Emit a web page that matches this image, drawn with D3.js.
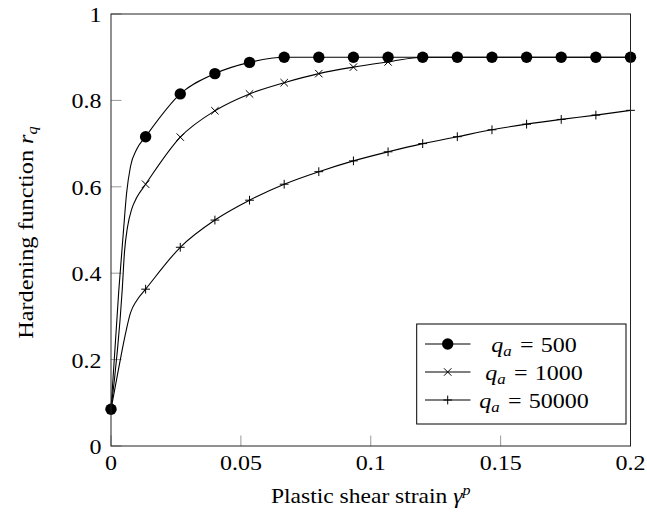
<!DOCTYPE html>
<html>
<head>
<meta charset="utf-8">
<script src="https://cdn.jsdelivr.net/npm/d3@7"></script>
<style>
  body { margin: 0; background: #fff; }
  svg { display: block; }
  text { font-family: "Liberation Serif", Tinos, "Times New Roman", Times, serif; fill: #000; }
</style>
</head>
<body>
<svg id="chart" width="647" height="523"></svg>
<script>
// Plastic shear strain at the marked samples
const strain = [0, 0.01333, 0.02667, 0.04, 0.05333, 0.06667, 0.08, 0.09333,
                0.10667, 0.12, 0.13333, 0.14667, 0.16, 0.17333, 0.18667, 0.2];

// Hardening function r_q at the marked samples
const rq500   = [0.085, 0.716, 0.815, 0.862, 0.888, 0.9, 0.9, 0.9,
                 0.9, 0.9, 0.9, 0.9, 0.9, 0.9, 0.9, 0.9];
const rq1000  = [0.085, 0.606, 0.715, 0.776, 0.815, 0.841, 0.862, 0.877,
                 0.889, 0.9, 0.9, 0.9, 0.9, 0.9, 0.9, 0.9];
const rq50000 = [0.085, 0.363, 0.460, 0.523, 0.569, 0.606, 0.635, 0.660,
                 0.681, 0.700, 0.716, 0.732, 0.745, 0.756, 0.766, 0.777];

// Extra unmarked curve samples across the steep initial rise
const earlyStrain500  = [0.003, 0.0047, 0.006, 0.0075, 0.0099];
const earlyRq500      = [0.36, 0.49, 0.585, 0.647, 0.687];
const earlyStrain1000 = [0.0043, 0.0052, 0.0063, 0.008, 0.0099];
const earlyRq1000     = [0.36, 0.45, 0.505, 0.549, 0.575];
const earlyStrain50000 = [0.0028, 0.0054, 0.0075, 0.0099];
const earlyRq50000     = [0.175, 0.255, 0.308, 0.337];

const seriesLabels = ["500", "1000", "50000"];
const seriesMarks  = ["circle", "cross", "plus"];

const xTicks = [0, 0.05, 0.1, 0.15, 0.2];
const xTickLabels = ["0", "0.05", "0.1", "0.15", "0.2"];
const yTicks = [0, 0.2, 0.4, 0.6, 0.8, 1];
const yTickLabels = ["0", "0.2", "0.4", "0.6", "0.8", "1"];

const svg = d3.select("#chart");
const L = 111, R = 630.5, T = 14, B = 446;

const x = d3.scaleLinear().domain([0, 0.2]).range([L, R]);
const y = d3.scaleLinear().domain([0, 1]).range([B, T]);

const series = [
  { marked: strain.map((s, i) => [s, rq500[i]]),
    early: earlyStrain500.map((s, i) => [s, earlyRq500[i]]) },
  { marked: strain.map((s, i) => [s, rq1000[i]]),
    early: earlyStrain1000.map((s, i) => [s, earlyRq1000[i]]) },
  { marked: strain.map((s, i) => [s, rq50000[i]]),
    early: earlyStrain50000.map((s, i) => [s, earlyRq50000[i]]) }
];

// Ticks (inside, left and bottom only)
const TICK = 10.5;
const axes = svg.append("g");
axes.selectAll(".xt").data(xTicks).join("line")
  .attr("x1", d => x(d)).attr("x2", d => x(d))
  .attr("y1", B).attr("y2", B - TICK)
  .attr("stroke", "#999").attr("stroke-width", 1);
axes.selectAll(".yt").data(yTicks).join("line")
  .attr("x1", L).attr("x2", L + TICK)
  .attr("y1", d => y(d)).attr("y2", d => y(d))
  .attr("stroke", "#999").attr("stroke-width", 1);

// Tick labels, slightly wide serif digits
const SX = 1.2;
axes.selectAll(".xl").data(xTicks).join("g")
  .attr("transform", d => `translate(${x(d)},${B + 23.5}) scale(${SX},1)`)
  .append("text")
  .attr("text-anchor", "middle").attr("font-size", 20)
  .text((d, i) => xTickLabels[i]);
axes.selectAll(".yl").data(yTicks).join("g")
  .attr("transform", d => `translate(${L - 9.5},${y(d) + 8}) scale(${SX},1)`)
  .append("text")
  .attr("text-anchor", "end").attr("font-size", 20)
  .text((d, i) => yTickLabels[i]);

// Curves
const line = d3.line().x(d => x(d[0])).y(d => y(d[1])).curve(d3.curveMonotoneX);
const plot = svg.append("g");
series.forEach(s => {
  const pts = s.marked.concat(s.early).sort((a, b) => a[0] - b[0]);
  plot.append("path").datum(pts)
    .attr("d", line)
    .attr("fill", "none").attr("stroke", "#000").attr("stroke-width", 1.1);
});

// Marker drawing
function drawMark(g, kind, cx, cy) {
  if (kind === "circle") {
    g.append("circle").attr("cx", cx).attr("cy", cy).attr("r", 5.7).attr("fill", "#000");
  } else if (kind === "cross") {
    const h = 3.7;
    g.append("path")
      .attr("d", `M${cx - h},${cy - h}L${cx + h},${cy + h}M${cx - h},${cy + h}L${cx + h},${cy - h}`)
      .attr("stroke", "#000").attr("stroke-width", 1).attr("fill", "none");
  } else {
    const h = 4.4;
    g.append("path")
      .attr("d", `M${cx - h},${cy}L${cx + h},${cy}M${cx},${cy - h}L${cx},${cy + h}`)
      .attr("stroke", "#000").attr("stroke-width", 1).attr("fill", "none");
  }
}
series.forEach((s, k) => {
  const g = plot.append("g");
  s.marked.forEach(p => drawMark(g, seriesMarks[k], x(p[0]), y(p[1])));
});

// Frame
svg.append("rect")
  .attr("x", L).attr("y", T).attr("width", R - L).attr("height", B - T)
  .attr("fill", "none").attr("stroke", "#222").attr("stroke-width", 1);

// Axis titles
const xt = svg.append("g")
  .attr("transform", `translate(${(L + R) / 2},${502.5}) scale(1.07,1)`)
  .append("text").attr("text-anchor", "middle").attr("font-size", 22);
xt.append("tspan").text("Plastic shear strain ");
xt.append("tspan").attr("font-style", "italic").text("γ");
xt.append("tspan").attr("font-style", "italic").attr("font-size", 15).attr("dy", -8).text("p");

const yt = svg.append("g")
  .attr("transform", `translate(33,232.5) rotate(-90) scale(1.1,1)`)
  .append("text").attr("text-anchor", "middle").attr("font-size", 22);
yt.append("tspan").text("Hardening function ");
yt.append("tspan").attr("font-style", "italic").text("r");
yt.append("tspan").attr("font-style", "italic").attr("font-size", 15).attr("dy", 4).text("q");

// Legend
const lg = svg.append("g");
lg.append("rect")
  .attr("x", 416.7).attr("y", 324).attr("width", 626 - 416.7).attr("height", 100)
  .attr("fill", "#fff").attr("stroke", "#000").attr("stroke-width", 1);
const rowY = [344, 372, 400];
seriesLabels.forEach((lab, k) => {
  const yy = rowY[k];
  lg.append("line").attr("x1", 425).attr("x2", 470.5).attr("y1", yy).attr("y2", yy)
    .attr("stroke", "#000").attr("stroke-width", 1.1);
  drawMark(lg, seriesMarks[k], 447.7, yy);
  const t = lg.append("g")
    .attr("transform", `translate(534,${yy + 7.5}) scale(${SX},1)`)
    .append("text").attr("text-anchor", "middle").attr("font-size", 20);
  t.append("tspan").attr("font-style", "italic").text("q");
  t.append("tspan").attr("font-style", "italic").attr("font-size", 14).attr("dy", 4).text("a");
  t.append("tspan").attr("dy", -4).attr("dx", 7).text("=");
  t.append("tspan").attr("dx", 6).text(lab);
});
</script>
</body>
</html>
